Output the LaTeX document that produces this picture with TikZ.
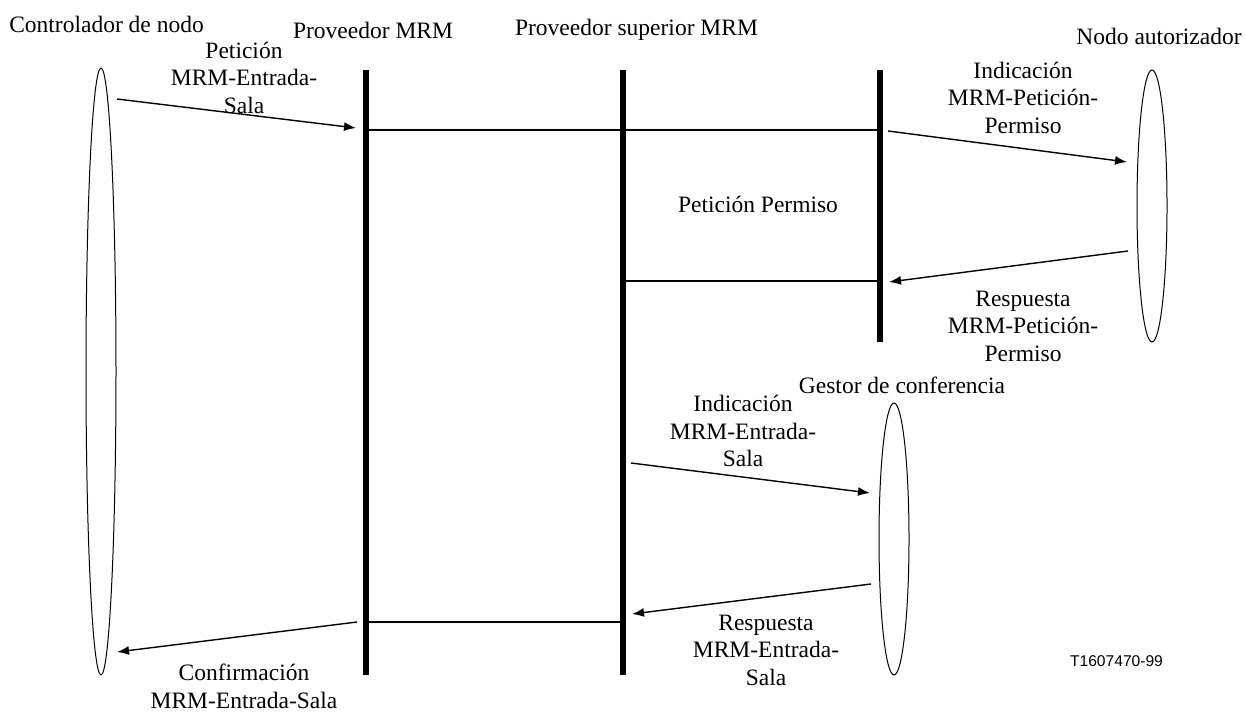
\documentclass[tikz,border=0pt]{standalone}
\usepackage{fontspec}
\setmainfont{Liberation Serif}
\newfontfamily\figfont{Liberation Sans}
\usetikzlibrary{shapes.geometric,arrows.meta}

\begin{document}
\begin{tikzpicture}
		[x = 0.5pt, y = -0.5pt,
		 lane/.style = {line width = 2.75pt},
		 link/.style = {line width = 1pt},
		 msg/.style = {line width = 0.7pt, -{Latex[length = 6pt, width = 4.5pt]}},
		 party/.style = {draw, ellipse, line width = 0.5pt, minimum width = 15pt, inner sep = 0pt},
		 lbl/.style = {align = center, inner sep = 0pt, font = \fontsize{11.75}{13.75}\selectfont}]
			\useasboundingbox (0,0) rectangle (1245,711);
			% participantes
			\node [party, minimum height = 303.5pt] (cn) at (101,371.5) {};
			\node [party, minimum height = 136pt] (na) at (1152,206) {};
			\node [party, minimum height = 136pt] (gc) at (894,539) {};
			\coordinate (p1t) at (366,70);  \coordinate (p1b) at (366,675);
			\coordinate (p2t) at (623,70);  \coordinate (p2b) at (623,675);
			\coordinate (p3t) at (880,70);  \coordinate (p3b) at (880,342);
			\draw [lane] (p1t) -- (p1b);
			\draw [lane] (p2t) -- (p2b);
			\draw [lane] (p3t) -- (p3b);
			% enlaces entre proveedores
			\coordinate (l1a) at (366,130); \coordinate (l1b) at (880,130);
			\coordinate (l2a) at (623,281); \coordinate (l2b) at (880,281);
			\coordinate (l3a) at (366,622); \coordinate (l3b) at (623,622);
			\draw [link] (l1a) -- (l1b);
			\draw [link] (l2a) -- (l2b);
			\draw [link] (l3a) -- (l3b);
			% mensajes
			\coordinate (m1s) at (117,99);   \coordinate (m1e) at (356,128);
			\coordinate (m2s) at (888,131);  \coordinate (m2e) at (1127,162);
			\coordinate (m3s) at (1128,251); \coordinate (m3e) at (889,282);
			\coordinate (m4s) at (631,463);  \coordinate (m4e) at (870,493);
			\coordinate (m5s) at (871,584);  \coordinate (m5e) at (632,614);
			\coordinate (m6s) at (357,622);  \coordinate (m6e) at (117,652);
			\foreach \m in {1,...,6}
				\draw [msg] (m\m s) -- (m\m e);
			% textos
			\node [lbl] (tcn) at (106.5,24.5) {Controlador de nodo};
			\node [lbl] (tp1) at (373,30) {Proveedor MRM};
			\node [lbl] (tp2) at (636.5,30) {Proveedor superior MRM};
			\node [lbl] (tna) at (1159,36.5) {Nodo autorizador};
			\node [lbl] (tgc) at (902,385) {Gestor de conferencia};
			\node [lbl] (tm1) at (244,77.5) {Petición\\MRM-Entrada-\\Sala};
			\node [lbl] (tm2) at (1023,97.5) {Indicación\\MRM-Petición-\\Permiso};
			\node [lbl] (tpp) at (758,204) {Petición Permiso};
			\node [lbl] (tm3) at (1023,326) {Respuesta\\MRM-Petición-\\Permiso};
			\node [lbl] (tm4) at (743,431) {Indicación\\MRM-Entrada-\\Sala};
			\node [lbl] (tm5) at (766,650) {Respuesta\\MRM-Entrada-\\Sala};
			\node [lbl] (tm6) at (244,686.5) {Confirmación\\MRM-Entrada-Sala};
			\node [inner sep = 0pt, font = \figfont\fontsize{7.8}{9}\selectfont] (ref) at (1116.5,661) {T1607470-99};
	\end{tikzpicture}
\end{document}
